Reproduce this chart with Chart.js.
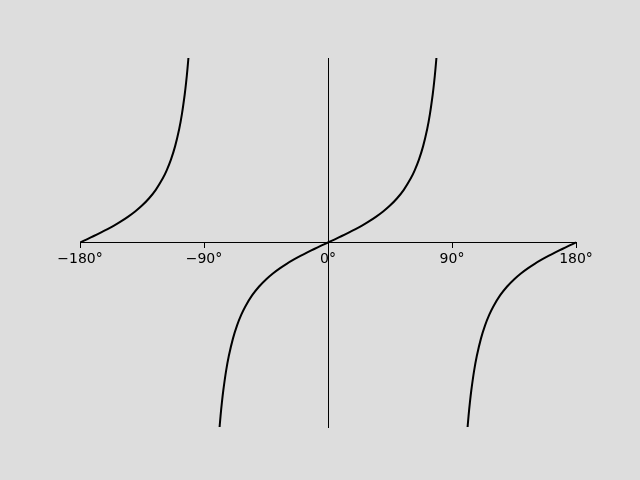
<!DOCTYPE html>
<html>
<head>
<meta charset="utf-8">
<script src="https://cdn.jsdelivr.net/npm/chart.js@4"></script>
<style>
html,body{margin:0;padding:0;background:#dddddd;}
#wrap{width:640px;height:480px;}
</style>
</head>
<body>
<div id="wrap"><canvas id="chart" width="640" height="480"></canvas></div>
<script>
// angle in degrees, tan value (null = break at asymptote)
const angles=[
-180,-175,-170,-165,-160,-155,-150,-145,-140,-135,-130,-125,-120,-117,-114,-111,-108,-106,-104,-103,-102,-101,-100,
-90,
-80,-79,-78,-77,-76,-74,-72,-69,-66,-63,-60,-55,-50,-45,-40,-35,-30,-25,-20,-15,-10,-5,
0,5,10,15,20,25,30,35,40,45,50,55,60,63,66,69,72,74,76,77,78,79,80,
90,
100,101,102,103,104,106,108,111,114,117,120,125,130,135,140,145,150,155,160,165,170,175,180
];
const tanValues=[
0,0.087,0.176,0.268,0.364,0.466,0.577,0.700,0.839,1.000,1.192,1.428,1.732,1.963,2.246,2.605,3.078,3.487,4.011,4.331,4.705,5.145,5.671,
null,
-5.671,-5.145,-4.705,-4.331,-4.011,-3.487,-3.078,-2.605,-2.246,-1.963,-1.732,-1.428,-1.192,-1.000,-0.839,-0.700,-0.577,-0.466,-0.364,-0.268,-0.176,-0.087,
0,0.087,0.176,0.268,0.364,0.466,0.577,0.700,0.839,1.000,1.192,1.428,1.732,1.963,2.246,2.605,3.078,3.487,4.011,4.331,4.705,5.145,5.671,
null,
-5.671,-5.145,-4.705,-4.331,-4.011,-3.487,-3.078,-2.605,-2.246,-1.963,-1.732,-1.428,-1.192,-1.000,-0.839,-0.700,-0.577,-0.466,-0.364,-0.268,-0.176,-0.087,0
];
const xTicks=[-180,-90,0,90,180];
const xTickLabels=['\u2212180\u00b0','\u221290\u00b0','0\u00b0','90\u00b0','180\u00b0'];

const points=angles.map((a,i)=>({x:a,y:tanValues[i]}));

new Chart(document.getElementById('chart'),
{
type:'scatter',
data:{
datasets:[{
data:points,
showLine:true,
spanGaps:false,
borderColor:'#000000',
borderWidth:2,
pointRadius:0,
tension:0.3
}]
},
options:{
responsive:false,
animation:false,
layout:{padding:{left:80,right:64,top:58,bottom:53}},
plugins:{legend:{display:false},tooltip:{enabled:false}},
scales:{
x:{
type:'linear',
min:-180,
max:180,
position:{y:0},
afterBuildTicks:(s)=>{s.ticks=xTicks.map(v=>({value:v}));},
ticks:{
color:'#000000',
font:{family:'DejaVu Sans',size:14},
padding:3,
maxRotation:0,
callback:(v)=>xTickLabels[xTicks.indexOf(v)]
},
grid:{drawOnChartArea:false,drawTicks:true,tickLength:5,color:'#000000'},
border:{display:true,color:'#000000',width:1}
},
y:{
type:'linear',
min:-5,
max:5,
position:{x:0},
ticks:{display:false},
grid:{display:false},
border:{display:true,color:'#000000',width:1}
}
}
}
});
</script>
</body>
</html>
